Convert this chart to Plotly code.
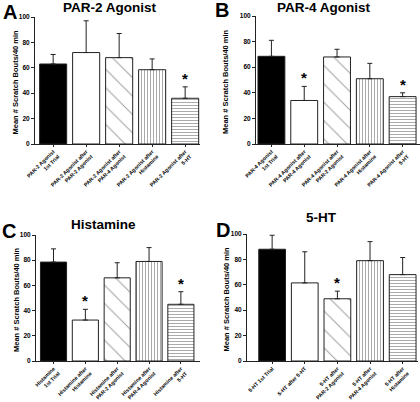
import plotly.graph_objects as go

W, H = 420, 402

titles = ["PAR-2 Agonist", "PAR-4 Agonist", "Histamine", "5-HT"]
letters = ["A", "B", "C", "D"]

labels_a = ["PAR-2 Agonist<br>1st Trial", "PAR-2 Agonist after<br>PAR-2 Agonist",
            "PAR-2 Agonist after<br>PAR-4 Agonist", "PAR-2 Agonist after<br>Histamine",
            "PAR-2 Agonist after<br>5-HT"]
labels_b = ["PAR-4 Agonist<br>1st Trial", "PAR-4 Agonist after<br>PAR-4 Agonist",
            "PAR-4 Agonist after<br>PAR-2 Agonist", "PAR-4 Agonist after<br>Histamine",
            "PAR-4 Agonist after<br>5-HT"]
labels_c = ["Histamine<br>1st Trial", "Histamine after<br>Histamine",
            "Histamine after<br>PAR-2 Agonist", "Histamine after<br>PAR-4 Agonist",
            "Histamine after<br>5-HT"]
labels_d = ["5-HT 1st Trial", "5-HT after 5-HT", "5-HT after<br>PAR-2 Agonist",
            "5-HT after<br>PAR-4 Agonist", "5-HT after<br>Histamine"]

means_a = [63, 72, 68, 58.5, 36]
err_a = [7.5, 25, 19, 8.5, 9]
star_a = [False, False, False, False, True]

means_b = [68.5, 34, 68, 51, 37]
err_b = [12.5, 11, 6, 12, 3]
star_b = [False, True, False, False, True]

means_c = [78.5, 32.5, 66, 79, 45]
err_c = [10.5, 8.5, 12, 11, 10]
star_c = [False, True, False, False, True]

means_d = [88, 61.5, 49, 79, 68]
err_d = [11, 24.5, 6, 15, 13.5]
star_d = [False, False, True, False, False]

panels = [
    (labels_a, means_a, err_a, star_a),
    (labels_b, means_b, err_b, star_b),
    (labels_c, means_c, err_c, star_c),
    (labels_d, means_d, err_d, star_d),
]

# pixel layout: (x_left, x_right, y_top(100), y_bottom(0), xrange)
geo = [
    (35, 200, 17, 144, [-0.55, 4.45]),
    (256, 420, 16, 144, [-0.47, 4.53]),
    (36, 200, 235, 361, [-0.55, 4.6]),
    (247, 418, 234, 361, [-0.77, 4.47]),
]
title_pos = [(110, 7.5), (324, 7.5), (103, 225), (321, 217)]
letter_pos = [(10, 12), (222, 10), (9, 231), (223, 230)]
ytitle_x = [15, 226, 16, 226]

fills = ["black", "white", "white", "white", "white"]
shapes_pat = ["", "", "\\", "|", "-"]
sizes_pat = [8, 8, 13, 3, 3]
solid_pat = [0.3, 0.3, 0.08, 0.3, 0.3]

FONT = "Liberation Sans"
fig = go.Figure()
annotations = []

for i, (labels, means, errs, stars) in enumerate(panels):
    xl, xr, yt, yb, xrng = geo[i]
    sfx = "" if i == 0 else str(i + 1)
    xs = list(range(len(means)))
    fig.add_trace(go.Bar(
        x=xs, y=means,
        width=0.82,
        marker=dict(
            color=fills,
            line=dict(color="#222", width=1),
            pattern=dict(shape=shapes_pat, size=sizes_pat, solidity=solid_pat,
                         fgcolor="#8a8a8a", bgcolor="white", fillmode="overlay"),
        ),
        error_y=dict(type="data", array=errs, arrayminus=[0] * len(errs),
                     symmetric=False, color="#222", thickness=1, width=2.5),
        xaxis="x" + sfx, yaxis="y" + sfx, showlegend=False,
    ))
    fig.layout["xaxis" + sfx] = dict(
        domain=[xl / W, xr / W], anchor="y" + sfx, automargin=False,
        range=xrng, tickvals=xs, ticktext=labels, tickangle=-45,
        showline=True, linecolor="#222", linewidth=1,
        ticks="outside", ticklen=1.5, tickcolor="#222",
        tickfont=dict(family=FONT, size=5.3, color="#000000", weight="bold"),
        showgrid=False, zeroline=False, fixedrange=True,
    )
    fig.layout["yaxis" + sfx] = dict(
        domain=[1 - yb / H, 1 - yt / H], anchor="x" + sfx, automargin=False,
        range=[0, 100], tickvals=[0, 20, 40, 60, 80, 100],
        showline=True, linecolor="#222", linewidth=1,
        ticks="outside", ticklen=3, tickcolor="#222",
        tickfont=dict(family=FONT, size=6.5, color="black", weight="bold"),
        showgrid=False, zeroline=False, fixedrange=True,
    )
    for j, s in enumerate(stars):
        if s:
            annotations.append(dict(
                x=j, y=means[j] + errs[j], xref="x" + sfx, yref="y" + sfx,
                text="*", showarrow=False, yanchor="bottom", yshift=-2,
                font=dict(family=FONT, size=15, color="black", weight="bold"),
            ))
    tx, ty = title_pos[i]
    annotations.append(dict(
        x=tx / W, y=1 - ty / H, xref="paper", yref="paper", text=titles[i],
        showarrow=False, xanchor="center", yanchor="middle",
        font=dict(family=FONT, size=13.5, color="black", weight="bold"),
    ))
    lx, ly = letter_pos[i]
    annotations.append(dict(
        x=lx / W, y=1 - ly / H, xref="paper", yref="paper", text=letters[i],
        showarrow=False, xanchor="center", yanchor="middle",
        font=dict(family=FONT, size=20, color="black", weight="bold"),
    ))
    annotations.append(dict(
        x=ytitle_x[i] / W, y=1 - ((yt + yb) / 2 + 2) / H, xref="paper", yref="paper",
        text="Mean # Scratch Bouts/40 min", textangle=-90,
        showarrow=False, xanchor="center", yanchor="middle",
        font=dict(family=FONT, size=7.5, color="black", weight="bold"),
    ))

fig.update_layout(
    width=W, height=H, margin=dict(l=0, r=0, t=0, b=0, autoexpand=False),
    paper_bgcolor="white", plot_bgcolor="white",
    annotations=annotations, bargap=0.18,
)

fig.write_html(
    "out.html",
    config={"displayModeBar": False, "staticPlot": True},
    post_script="document.body.style.margin='0px';document.body.style.overflow='hidden';",
)
